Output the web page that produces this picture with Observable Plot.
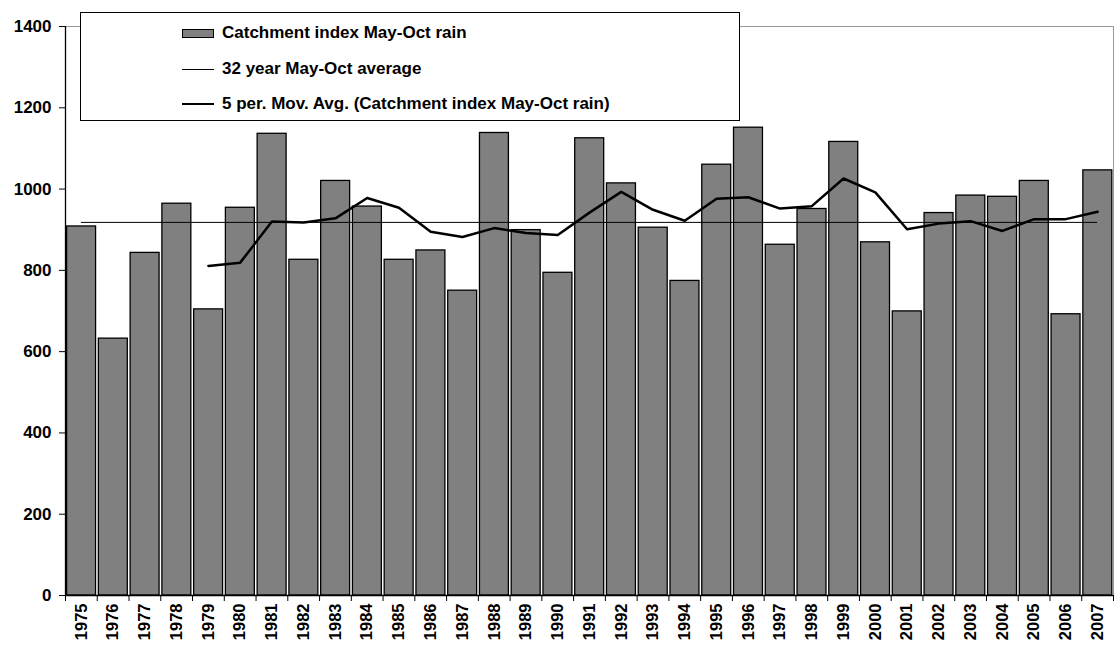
<!DOCTYPE html>
<html>
<head>
<meta charset="utf-8">
<script src="https://cdn.jsdelivr.net/npm/d3@7"></script>
<script src="https://cdn.jsdelivr.net/npm/@observablehq/plot@0.6"></script>
<style>
  body { margin: 0; background: #fff; }
  #wrap { position: relative; width: 1117px; height: 651px; overflow: hidden; font-family: "Liberation Sans", Arial, sans-serif; font-weight: bold; }
  #legend { position: absolute; left: 80px; top: 12px; width: 658px; height: 107px; border: 1.5px solid #000; background: #fff; box-sizing: content-box; }
  .item { position: absolute; left: 101px; height: 20px; display: flex; align-items: center; font-size: 17px; color: #000; white-space: nowrap; }
  .sw { width: 32px; margin-right: 8px; }
</style>
</head>
<body>
<div id="wrap">
  <div id="chart"></div>
  <div id="legend">
    <div class="item" style="top:10px"><div class="sw" style="height:7px;background:#808080;border:1px solid #000;width:30px"></div>Catchment index May-Oct rain</div>
    <div class="item" style="top:46px"><div class="sw" style="height:1px;background:#000"></div>32 year May-Oct average</div>
    <div class="item" style="top:81px"><div class="sw" style="height:2.5px;background:#000"></div>5 per. Mov. Avg. (Catchment index May-Oct rain)</div>
  </div>
</div>
<script>
const years = [1975,1976,1977,1978,1979,1980,1981,1982,1983,1984,1985,1986,1987,1988,1989,1990,1991,1992,1993,1994,1995,1996,1997,1998,1999,2000,2001,2002,2003,2004,2005,2006,2007];
const rain = [908,632,843,964,704,954,1136,826,1020,957,826,849,750,1138,899,794,1125,1014,905,774,1060,1151,863,951,1116,869,699,941,984,981,1020,692,1046];
const average = 918;
const maYears = [1979,1980,1981,1982,1983,1984,1985,1986,1987,1988,1989,1990,1991,1992,1993,1994,1995,1996,1997,1998,1999,2000,2001,2002,2003,2004,2005,2006,2007];
const movAvg = [811,819,920,918,928,978,954,895,882,904,892,887,942,993,949,922,976,980,952,958,1026,992,901,915,921,897,926,926,944];
const yTicks = [0,200,400,600,800,1000,1200,1400];

const bars = years.map((y, i) => ({year: y, value: rain[i]}));
const ma = maYears.map((y, i) => ({year: y, value: movAvg[i]}));
const bounds = years.map(y => y - 0.5).concat([years[years.length - 1] + 0.5]);

const chart = Plot.plot({
  width: 1117,
  height: 651,
  marginLeft: 65,
  marginRight: 4,
  marginTop: 26,
  marginBottom: 56,
  style: {fontFamily: "'Liberation Sans', Arial, sans-serif", fontWeight: "bold", background: "#fff", overflow: "visible"},
  x: {domain: [years[0] - 0.5, years[years.length - 1] + 0.5]},
  y: {domain: [0, 1400]},
  marks: [
    Plot.frame({stroke: "#999", strokeWidth: 1}),
    Plot.rectY(bars, {x1: d => d.year - 0.5, x2: d => d.year + 0.5, y: "value", fill: "#808080", stroke: "#000", strokeWidth: 1.3, insetLeft: 1.6, insetRight: 1.2}),
    Plot.ruleY([average], {x1: years[0], x2: years[years.length - 1], stroke: "#000", strokeWidth: 1}),
    Plot.lineY(ma, {x: "year", y: "value", stroke: "#000", strokeWidth: 2.5}),
    Plot.ruleX([years[0] - 0.5], {stroke: "#000", strokeWidth: 1.3}),
    Plot.ruleY([0], {stroke: "#000", strokeWidth: 1.3}),
    Plot.axisY({ticks: yTicks, tickSize: 6, tickPadding: 8, tickFormat: d => String(d), fontSize: 17, fontWeight: "bold", label: null, stroke: "#000"}),
    Plot.axisX({ticks: bounds, tickSize: 6, tickFormat: () => "", label: null, stroke: "#000"}),
    Plot.axisX({ticks: years, tickSize: 0, tickPadding: 8, tickRotate: -90, tickFormat: d => String(d), fontSize: 16.5, fontWeight: "bold", label: null})
  ]
});
document.getElementById("chart").appendChild(chart);
</script>
</body>
</html>
